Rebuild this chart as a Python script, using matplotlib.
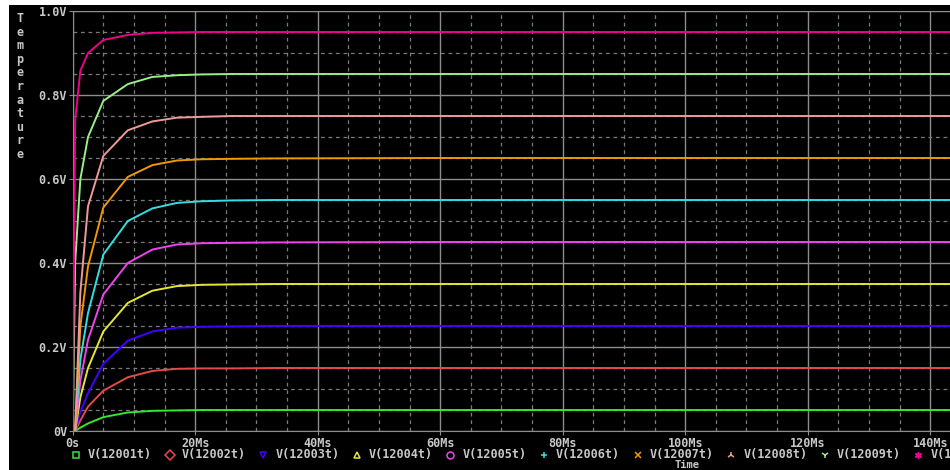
import numpy as np
import matplotlib
matplotlib.use("Agg")
import matplotlib.pyplot as plt
from matplotlib.ticker import MultipleLocator, FixedLocator
from matplotlib.patches import Rectangle

# Time samples (ms) shared by all traces
t_ms = [0, 0.4, 1.25, 2.5, 5, 9, 13, 17, 21, 26, 33, 60, 100, 145]

# Traces (volts)
v12001 = [0, 0.0, 0.008, 0.018, 0.033, 0.044, 0.048, 0.049, 0.050, 0.050, 0.050, 0.050, 0.050, 0.050]
v12002 = [0, 0.0, 0.025, 0.058, 0.096, 0.128, 0.143, 0.148, 0.149, 0.149, 0.150, 0.150, 0.150, 0.150]
v12003 = [0, 0.0, 0.045, 0.090, 0.160, 0.215, 0.237, 0.246, 0.248, 0.249, 0.250, 0.250, 0.250, 0.250]
v12004 = [0, 0.0, 0.080, 0.150, 0.237, 0.305, 0.334, 0.345, 0.348, 0.349, 0.350, 0.350, 0.350, 0.350]
v12005 = [0, 0.0, 0.120, 0.217, 0.325, 0.400, 0.432, 0.444, 0.447, 0.448, 0.449, 0.450, 0.450, 0.450]
v12006 = [0, 0.0, 0.170, 0.281, 0.420, 0.500, 0.530, 0.543, 0.547, 0.549, 0.550, 0.550, 0.550, 0.550]
v12007 = [0, 0.0, 0.250, 0.392, 0.532, 0.605, 0.633, 0.644, 0.647, 0.648, 0.649, 0.650, 0.650, 0.650]
v12008 = [0, 0.0, 0.330, 0.535, 0.655, 0.716, 0.737, 0.746, 0.748, 0.750, 0.750, 0.750, 0.750, 0.750]
v12009 = [0, 0.40, 0.600, 0.700, 0.786, 0.826, 0.843, 0.847, 0.849, 0.850, 0.850, 0.850, 0.850, 0.850]
v12010 = [0, 0.74, 0.858, 0.900, 0.931, 0.943, 0.948, 0.949, 0.950, 0.950, 0.950, 0.950, 0.950, 0.950]

labels = ["V(12001t)", "V(12002t)", "V(12003t)", "V(12004t)", "V(12005t)",
          "V(12006t)", "V(12007t)", "V(12008t)", "V(12009t)", "V(12010t)"]
series = [v12001, v12002, v12003, v12004, v12005,
          v12006, v12007, v12008, v12009, v12010]
colors = ["#33e633", "#e84848", "#4400ff", "#e6e633", "#ee44ee",
          "#33dede", "#ee9900", "#ee9a9a", "#99ee88", "#ee0088"]
markers = ["s", "D", "v", "^", "o", "+", "x", "2", "1", (6, 2, 0)]

x_ticks = [0, 20, 40, 60, 80, 100, 120, 140]
x_tick_labels = ["0s", "20Ms", "40Ms", "60Ms", "80Ms", "100Ms", "120Ms", "140Ms"]
y_ticks = [0, 0.2, 0.4, 0.6, 0.8, 1.0]
y_tick_labels = ["0V", "0.2V", "0.4V", "0.6V", "0.8V", "1.0V"]

W, H = 950, 470
txt = "#c8c8c8"
grid_major = "#8c8c8c"
grid_minor = "#7a7a7a"
mono = dict(family="DejaVu Sans Mono", weight="bold")
fs = 8.5

fig = plt.figure(figsize=(W / 100, H / 100), dpi=100, facecolor="black")
# white strips along top and left edge
fig.patches.append(Rectangle((0, 0), 9 / W, 1, transform=fig.transFigure,
                             facecolor="white", edgecolor="none", zorder=0))
fig.patches.append(Rectangle((0, 1 - 5 / H), 1, 5 / H, transform=fig.transFigure,
                             facecolor="white", edgecolor="none", zorder=0))

x0, x1 = 72.7, 950
y_top, y_bot = 11, 431
ax = fig.add_axes([x0 / W, (H - y_bot) / H, (x1 - x0) / W, (y_bot - y_top) / H])
ax.set_facecolor("black")
px_per_ms = 122.5 / 20
ax.set_xlim(0, (x1 - x0) / px_per_ms)
ax.set_ylim(0, 1.0)

for v, c in zip(series, colors):
    ax.plot(t_ms, v, color=c, lw=1.4, zorder=3)

ax.xaxis.set_major_locator(FixedLocator(x_ticks))
ax.xaxis.set_minor_locator(MultipleLocator(5))
ax.yaxis.set_major_locator(FixedLocator(y_ticks))
ax.yaxis.set_minor_locator(MultipleLocator(0.05))
ax.grid(which="major", color=grid_major, lw=1.0, ls="-", zorder=1)
ax.grid(which="minor", color=grid_minor, lw=0.9, ls=(0, (3, 3)), zorder=1)
ax.set_xticklabels(x_tick_labels, fontsize=fs, color=txt, **mono)
ax.set_yticklabels(y_tick_labels, fontsize=fs, color=txt, **mono)
ax.tick_params(which="major", length=3, color=grid_major, pad=1)
ax.tick_params(which="minor", length=0)
for s in ["left", "bottom", "top"]:
    ax.spines[s].set_color(grid_major)
ax.spines["right"].set_visible(False)

# stacked vertical axis title
fig.text(20 / W, 1 - 12 / H, "\n".join("Temperature"), ha="center", va="top",
         fontsize=fs, color=txt, linespacing=1.06, **mono)

# legend row under the axis (last entry runs off the right edge, as in the original)
leg_y = 454.5
for i, (lab, c, m) in enumerate(zip(labels, colors, markers)):
    xm = 76 + i * 93.6
    fig.add_artist(plt.Line2D([xm / W], [1 - leg_y / H], marker=m, color=c,
                              mfc="none", mec=c, ms=5, mew=1.1,
                              transform=fig.transFigure, ls="none"))
    fig.text((xm + 12) / W, 1 - leg_y / H, lab, ha="left", va="center",
             fontsize=fs, color=txt, **mono)

fig.text(687 / W, 1 - 469.5 / H, "Time", ha="center", va="bottom",
         fontsize=7.5, color=txt, **mono)

fig.savefig("out.png", dpi=100, facecolor=fig.get_facecolor())
